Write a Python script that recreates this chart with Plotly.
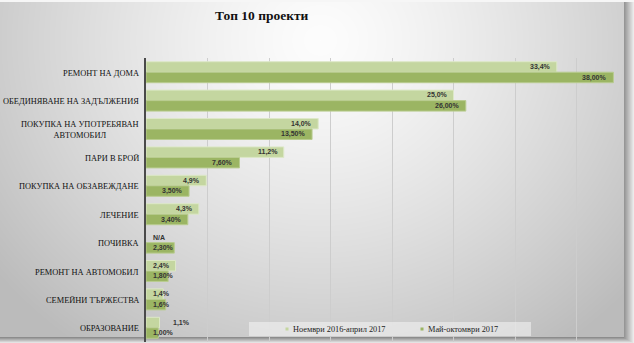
import base64
import struct
import zlib

import numpy as np
import plotly.graph_objects as go

# ---- data -------------------------------------------------------------
categories = [
    "РЕМОНТ НА ДОМА",
    "ОБЕДИНЯВАНЕ НА ЗАДЪЛЖЕНИЯ",
    "ПОКУПКА НА УПОТРЕБЯВАН<br>АВТОМОБИЛ",
    "ПАРИ В БРОЙ",
    "ПОКУПКА НА ОБЗАВЕЖДАНЕ",
    "ЛЕЧЕНИЕ",
    "ПОЧИВКА",
    "РЕМОНТ НА АВТОМОБИЛ",
    "СЕМЕЙНИ ТЪРЖЕСТВА",
    "ОБРАЗОВАНИЕ",
]
series_names = ["Ноември 2016-април 2017", "Май-октомври 2017"]
nov_apr = [33.4, 25.0, 14.0, 11.2, 4.9, 4.3, None, 2.4, 1.4, 1.1]
may_oct = [38.0, 26.0, 13.5, 7.6, 3.5, 3.4, 2.3, 1.8, 1.6, 1.0]
nov_apr_decimals = [1, 1, 1, 1, 1, 1, 1, 1, 1, 1]
may_oct_decimals = [2, 2, 2, 2, 2, 2, 2, 2, 1, 2]

# ---- geometry ---------------------------------------------------------
W, H = 634, 343
M_L, M_R, M_T, M_B = 146, 13, 58, 1
PX_PER_UNIT = 12.3
X_MAX = (W - M_L - M_R) / PX_PER_UNIT
PLOT_W = W - M_L - M_R
PLOT_H = H - M_T - M_B

LIGHT = "#c4d6a0"
DARK = "#9bb563"


def png_uri(rgb):
    h, w, _ = rgb.shape
    raw = b"".join(b"\x00" + rgb[i].tobytes() for i in range(h))

    def chunk(tag, data):
        return (struct.pack(">I", len(data)) + tag + data
                + struct.pack(">I", zlib.crc32(tag + data) & 0xFFFFFFFF))

    png = (b"\x89PNG\r\n\x1a\n"
           + chunk(b"IHDR", struct.pack(">IIBBBBB", w, h, 8, 2, 0, 0, 0))
           + chunk(b"IDAT", zlib.compress(raw, 9))
           + chunk(b"IEND", b""))
    return "data:image/png;base64," + base64.b64encode(png).decode()


# card background: soft radial gradient with a drop shadow right/bottom
yy, xx = np.mgrid[0:H, 0:W].astype(float)
t = np.sqrt(((xx - 320) / 360) ** 2 + ((yy - 40) / 330) ** 2)
val = 253 - 55 * np.clip(t, 0, 1.15) ** 1.3
card_r, card_b, card_t = 624, 337, 2
val = np.where(yy < card_t, 246, val)
shadow_x = np.clip((xx - card_r) / (W - card_r), 0, 1)
shadow_y = np.clip((yy - card_b) / (H - card_b), 0, 1)
right = (xx >= card_r) & (yy >= card_t)
bottom = (yy >= card_b)
val = np.where(right, 150 + 95 * shadow_x, val)
val = np.where(bottom, np.maximum(140 + 105 * shadow_y,
                                  np.where(right, 150 + 95 * shadow_x, 0)), val)
bg = np.clip(val, 0, 255).astype(np.uint8)
bg_img = np.stack([bg, bg, bg], axis=-1)


def fmt(v, d):
    if v is None:
        return "N/A"
    return f"{v:.{d}f}".replace(".", ",") + "%"


fig = go.Figure()
fig.add_trace(go.Bar(
    y=categories, x=nov_apr, orientation="h", name=series_names[0],
    marker=dict(color=LIGHT, line=dict(color="#dde8c8", width=1)),
    showlegend=False,
))
fig.add_trace(go.Bar(
    y=categories, x=may_oct, orientation="h", name=series_names[1],
    marker=dict(color=DARK, line=dict(color="#b9cc90", width=1)),
    showlegend=False,
))

annotations = []
label_font = dict(family="Liberation Sans", size=7, color="#333333")
for values, decs, shift in ((nov_apr, nov_apr_decimals, 5.3),
                            (may_oct, may_oct_decimals, -5.3)):
    for cat, v, d in zip(categories, values, decs):
        text = fmt(v, d)
        width = len(text) * 3.9
        bar_px = 0 if v is None else v * PX_PER_UNIT
        if values is nov_apr and cat == "ОБРАЗОВАНИЕ":
            x, anchor, xs = v, "left", 11
        elif bar_px - 4 - width < 6:
            x, anchor, xs = 0, "left", 5
        else:
            x, anchor, xs = v, "right", -4
        annotations.append(dict(
            x=x, y=cat, xref="x", yref="y", text="<b>" + text + "</b>",
            showarrow=False, xanchor=anchor, yanchor="middle",
            xshift=xs, yshift=shift, font=label_font,
        ))

for cat in categories:
    annotations.append(dict(
        x=0, y=cat, xref="paper", yref="y", text=cat, showarrow=False,
        xanchor="right", yanchor="middle", align="center", xshift=-5,
        yshift=-1,
        font=dict(family="Liberation Serif", size=8.4, color="#111111"),
    ))

# title
annotations.append(dict(
    x=(262 - M_L) / PLOT_W, y=1 + (M_T - 15) / PLOT_H, xref="paper",
    yref="paper", text="<b>Топ 10 проекти</b>", showarrow=False,
    xanchor="center", yanchor="middle",
    font=dict(family="Liberation Serif", size=13.5, color="#111111"),
))


def px_x(p):
    return (p - M_L) / PLOT_W


def px_y(p):
    return 1 - (p - M_T) / PLOT_H


# legend box with the two series keys
shapes = [dict(
    type="rect", xref="paper", yref="paper",
    x0=px_x(249), x1=px_x(531), y0=px_y(336), y1=px_y(322),
    fillcolor="rgba(245,245,245,0.55)", line=dict(width=0), layer="above",
)]
for name, color, mx in ((series_names[0], LIGHT, 287),
                        (series_names[1], DARK, 422)):
    shapes.append(dict(
        type="rect", xref="paper", yref="paper",
        x0=px_x(mx - 1.5), x1=px_x(mx + 1.5),
        y0=px_y(330.5), y1=px_y(327.5),
        fillcolor=color, line=dict(width=0), layer="above",
    ))
    annotations.append(dict(
        x=px_x(mx + 4), y=px_y(329), xref="paper", yref="paper",
        text=name, showarrow=False, xanchor="left", yanchor="middle",
        font=dict(family="Liberation Serif", size=8.3, color="#222222"),
    ))

fig.update_layout(
    width=W, height=H,
    margin=dict(l=M_L, r=M_R, t=M_T, b=M_B, pad=0),
    paper_bgcolor="white",
    plot_bgcolor="rgba(0,0,0,0)",
    barmode="group",
    bargap=0.26,
    bargroupgap=0,
    xaxis=dict(
        range=[0, X_MAX], dtick=5, showticklabels=False,
        showgrid=True, gridcolor="#cdcdcd", gridwidth=1.2,
        zeroline=False, showline=False, fixedrange=True,
    ),
    yaxis=dict(
        autorange="reversed", showticklabels=False, showgrid=False,
        showline=True, linecolor="#4a4a4a", linewidth=1.5,
        ticks="", fixedrange=True,
    ),
    images=[dict(
        source=png_uri(bg_img), xref="paper", yref="paper",
        x=-M_L / PLOT_W, y=1 + M_T / PLOT_H,
        sizex=W / PLOT_W, sizey=H / PLOT_H,
        xanchor="left", yanchor="top", sizing="stretch", layer="below",
    )],
    annotations=annotations,
    shapes=shapes,
    showlegend=False,
)

fig.write_html("out.html", config={"displayModeBar": False})
